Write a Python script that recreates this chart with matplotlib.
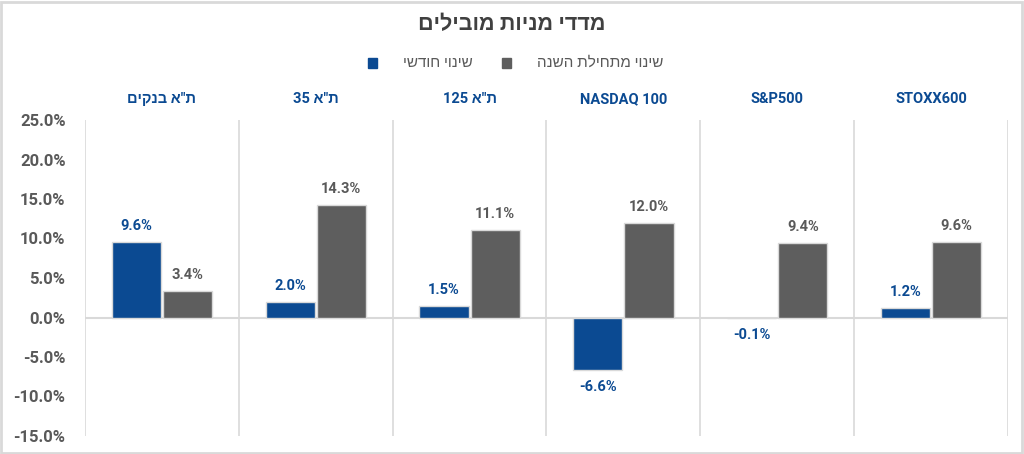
import matplotlib.pyplot as plt
from matplotlib.patches import Rectangle
from matplotlib.ticker import FuncFormatter
import numpy as np

plt.rcParams['font.family'] = ['Roboto', 'Liberation Sans', 'DejaVu Sans']


def heb(s):
    # matplotlib has no bidi support: reverse Hebrew text into visual order
    return s[::-1]


# categories, left to right as drawn
categories = [heb('ת"א בנקים'), '35 ' + heb('ת"א'), '125 ' + heb('ת"א'),
              'NASDAQ 100', 'S&P500', 'STOXX600']
monthly = [9.6, 2.0, 1.5, -6.6, -0.1, 1.2]
ytd = [3.4, 14.3, 11.1, 12.0, 9.4, 9.6]

title = heb('מדדי מניות מובילים')
label_monthly = heb('שינוי חודשי')
label_ytd = heb('שינוי מתחילת השנה')

blue = '#0B4A92'
gray = '#5E5E5E'
text_gray = '#595959'
line_gray = '#D9D9D9'

fig = plt.figure(figsize=(10.24, 4.54), dpi=100)
ax = fig.add_axes([85 / 1024, 1 - 436 / 454, 923 / 1024, 316 / 454])

x = np.arange(len(categories))
w = 0.32
off = 0.166
b1 = ax.bar(x - off, monthly, w, color=blue, edgecolor=line_gray, linewidth=1, zorder=3)
b2 = ax.bar(x + off, ytd, w, color=gray, edgecolor=line_gray, linewidth=1, zorder=3)

# value labels
for rect, v in zip(b1, monthly):
    cx = rect.get_x() + rect.get_width() / 2
    ax.annotate(f'{v:.1f}%', (cx, v), xytext=(0, 16 if v >= 0 else -17),
                textcoords='offset pixels', ha='center', va='center',
                color=blue, fontsize=10.5, fontweight='bold', zorder=4)
for rect, v in zip(b2, ytd):
    cx = rect.get_x() + rect.get_width() / 2
    ax.annotate(f'{v:.1f}%', (cx, v), xytext=(0, 16),
                textcoords='offset pixels', ha='center', va='center',
                color=text_gray, fontsize=10.5, fontweight='bold', zorder=4)

ax.set_xlim(-0.5, len(categories) - 0.5)
ax.set_ylim(-15, 25)
ax.set_yticks(np.arange(-15, 26, 5))
ax.yaxis.set_major_formatter(FuncFormatter(lambda v, p: f'{v:.1f}%'))
ax.tick_params(axis='y', length=0, pad=14, labelsize=12, labelcolor=text_gray)
for lab in ax.get_yticklabels():
    lab.set_fontweight('bold')

# category names on top
ax.xaxis.tick_top()
ax.set_xticks(x)
ax.set_xticklabels(categories, fontsize=10.5, fontweight='bold', color=blue)
ax.tick_params(axis='x', length=0, pad=10)

# separators and zero line
for sep in np.arange(-0.5, len(categories), 1.0):
    ax.axvline(sep, color=line_gray, linewidth=1.2, zorder=1)
ax.axhline(0, color=line_gray, linewidth=1.5, zorder=2)

for s in ax.spines.values():
    s.set_visible(False)

fig.text(0.5, 1 - 24 / 454, title, ha='center', va='center',
         fontsize=15.5, fontweight='bold', color='#404040')

# legend (drawn manually to keep the RTL layout of the original)
ly = 1 - 63 / 454
sq = 9
fig.patches.append(Rectangle((368 / 1024, ly - sq / 2 / 454), sq / 1024, sq / 454,
                             transform=fig.transFigure, color=blue))
fig.text(473 / 1024, ly, label_monthly, ha='right', va='center', fontsize=11, color=text_gray)
fig.patches.append(Rectangle((502 / 1024, ly - sq / 2 / 454), sq / 1024, sq / 454,
                             transform=fig.transFigure, color=gray))
fig.text(663 / 1024, ly, label_ytd, ha='right', va='center', fontsize=11, color=text_gray)

# outer frame
fig.patches.append(Rectangle((1 / 1024, 1 / 454), 1021 / 1024, 451 / 454,
                             transform=fig.transFigure, fill=False,
                             edgecolor=line_gray, linewidth=2))

fig.savefig('out.png', dpi=100)
